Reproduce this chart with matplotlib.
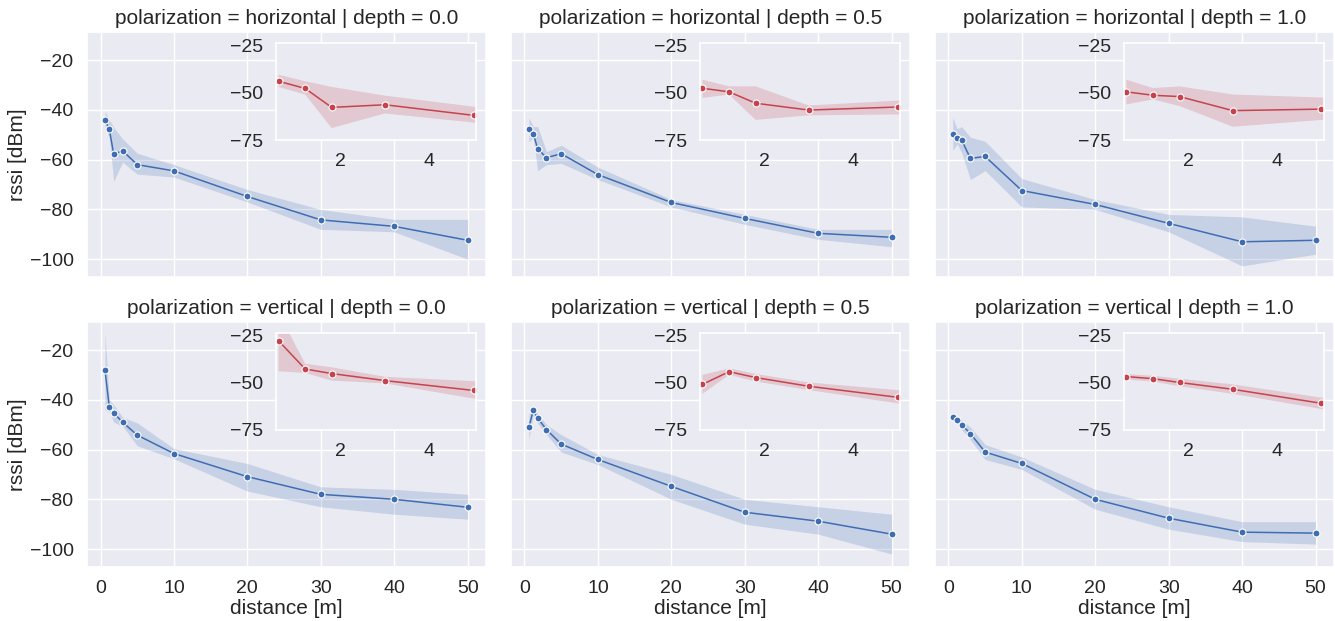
import numpy as np
import matplotlib
matplotlib.use("Agg")
import matplotlib.pyplot as plt
import seaborn as sns

sns.set_theme(style="darkgrid")
plt.rcParams["font.family"] = ["Liberation Sans", "DejaVu Sans"]

# distances where rssi was measured (m)
distance = [0.6, 1.2, 1.8, 3, 5, 10, 20, 30, 40, 50]

# mean rssi and ci band per facet
h00 = [-44, -47.8, -57.8, -56.4, -62, -64.5, -74.8, -84.2, -86.8, -92.4]
h00_lo = [-47, -51, -68.7, -61, -65.8, -67, -77, -88, -89, -100]
h00_hi = [-40.6, -44, -47, -51.6, -57.4, -62, -72, -80, -84, -84]

h05 = [-47.7, -49.6, -55.6, -59.2, -57.6, -66, -77.2, -83.6, -89.6, -91.2]
h05_lo = [-52.8, -51, -64.4, -62, -61.5, -68, -79, -86, -92, -95]
h05_hi = [-43.2, -46.7, -46.7, -56.8, -54.2, -63, -76, -82, -88, -88]

h10 = [-49.6, -51.4, -52.1, -59.5, -58.7, -72.4, -78, -85.6, -93, -92.4]
h10_lo = [-56.2, -53.6, -57.1, -68, -64.4, -79, -80, -89, -102.7, -98]
h10_hi = [-43.2, -47.6, -46.7, -51, -52.6, -67.6, -76, -82, -83, -86.7]

v00 = [-28, -42.9, -45.3, -49, -54.2, -61.6, -70.9, -78, -80, -83.2]
v00_lo = [-44.1, -45, -49, -50.5, -58.5, -63.7, -76.7, -83, -86, -88]
v00_hi = [-13, -40.1, -42, -47, -49.3, -59.6, -65.6, -75, -76, -78]

v05 = [-51, -44.3, -47.4, -52, -57.8, -64, -74.8, -85.2, -88.8, -94]
v05_lo = [-56, -46, -49.5, -54, -61, -66, -80, -90, -94, -102]
v05_hi = [-46, -42.5, -45.5, -50, -54, -62, -70, -80, -83, -86]

v10 = [-46.9, -48, -50, -53.6, -61, -65.6, -80, -87.6, -93.2, -93.6]
v10_lo = [-48.5, -49.5, -52, -56, -64, -68, -84, -92, -97, -98]
v10_hi = [-45.5, -46.5, -48, -51, -58, -63, -76, -83, -89, -89]

polarizations = ["horizontal", "vertical"]
depths = [0.0, 0.5, 1.0]
panels = [[(h00, h00_lo, h00_hi), (h05, h05_lo, h05_hi), (h10, h10_lo, h10_hi)],
          [(v00, v00_lo, v00_hi), (v05, v05_lo, v05_hi), (v10, v10_lo, v10_hi)]]

blue = "#3F6DB3"
red = "#C5434D"
fs = 15       # titles and axis labels
tfs = 14      # tick labels

fig, axes = plt.subplots(2, 3, figsize=(13.35, 6.21), dpi=100, sharex=True, sharey=True)
fig.subplots_adjust(left=0.065, right=0.999, top=0.948, bottom=0.087, wspace=0.0625, hspace=0.184)

for i, pol in enumerate(polarizations):
    for j, dep in enumerate(depths):
        ax = axes[i, j]
        y, lo, hi = panels[i][j]
        ax.fill_between(distance, lo, hi, color=blue, alpha=0.2, lw=0)
        ax.plot(distance, y, color=blue, lw=1.1, marker="o", ms=5, mec="white", mew=0.8)
        ax.set_title(f"polarization = {pol} | depth = {dep}", fontsize=fs)
        ax.tick_params(labelsize=tfs)
        if i == 1:
            ax.set_xlabel("distance [m]", fontsize=fs, labelpad=1)
        if j == 0:
            ax.set_ylabel("rssi [dBm]", fontsize=fs, labelpad=2)

        # zoom on the first five metres
        ins = ax.inset_axes([0.475, 0.56, 0.5, 0.395])
        ins.fill_between(distance, lo, hi, color=red, alpha=0.2, lw=0)
        ins.plot(distance, y, color=red, lw=1.1, marker="o", ms=5, mec="white", mew=0.8)
        ins.set_xlim(0.55, 5.05)
        ins.set_ylim(-75, -24)
        ins.set_xticks([2, 4])
        ins.set_yticks([-25, -50, -75])
        ins.grid(False)
        ins.tick_params(labelsize=tfs)
        for s in ins.spines.values():
            s.set_color("white")
            s.set_linewidth(1.2)

axes[0, 0].set_ylim(-107.2, -8.8)
axes[0, 0].set_yticks([-20, -40, -60, -80, -100])
axes[0, 0].set_xticks([0, 10, 20, 30, 40, 50])

plt.savefig("out.png", dpi=100)
